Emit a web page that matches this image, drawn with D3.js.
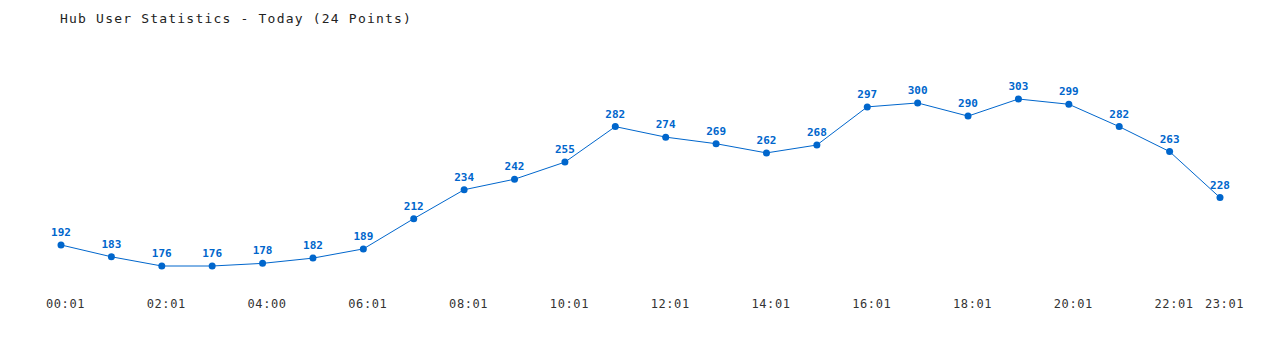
<!DOCTYPE html>
<html><head><meta charset="utf-8">
<script src="https://cdn.jsdelivr.net/npm/d3@7"></script>
<style>body{margin:0;background:#fff}svg{display:block}</style>
</head><body>
<script>
const title = "Hub User Statistics - Today (24 Points)";
const times = ["00:01","01:01","02:01","03:01","04:00","05:01","06:01","07:01","08:01","09:01","10:01","11:01",
               "12:01","13:01","14:01","15:01","16:01","17:01","18:01","19:01","20:01","21:01","22:01","23:01"];
const users = [192,183,176,176,178,182,189,212,234,242,255,282,274,269,262,268,297,300,290,303,299,282,263,228];
const tickLabels = ["00:01","02:01","04:00","06:01","08:01","10:01","12:01","14:01","16:01","18:01","20:01","22:01","23:01"];

const W = 1280, H = 350, blue = "#0066cc";
const svg = d3.select("body").append("svg").attr("width", W).attr("height", H);

const x = d3.scalePoint().domain(times).range([61, 1220]);
const y = d3.scaleLinear().domain([d3.min(users), d3.max(users)]).range([266, 99]);

svg.append("text").attr("x", 60).attr("y", 23)
  .attr("font-family", "DejaVu Sans Mono").attr("font-size", 13).attr("letter-spacing", 1.2)
  .attr("fill", "#222").text(title);

const xAxis = d3.axisBottom(x).tickValues(tickLabels).tickSize(0).tickPadding(0);
const gx = svg.append("g").attr("transform", "translate(4,299)").call(xAxis);
gx.select(".domain").remove();
gx.selectAll("text").attr("font-family", "DejaVu Sans Mono").attr("font-size", 12).attr("letter-spacing", 0.6).attr("fill", "#333");

const data = times.map((t, i) => ({t, v: users[i]}));
svg.append("path").datum(data)
  .attr("fill", "none").attr("stroke", blue).attr("stroke-width", 1)
  .attr("d", d3.line().x(d => x(d.t)).y(d => y(d.v)));

svg.append("g").selectAll("circle").data(data).join("circle")
  .attr("cx", d => x(d.t)).attr("cy", d => y(d.v)).attr("r", 3.5).attr("fill", blue);

svg.append("g").selectAll("text").data(data).join("text")
  .attr("x", d => x(d.t)).attr("y", d => y(d.v) - 9)
  .attr("text-anchor", "middle").attr("font-family", "DejaVu Sans Mono").attr("font-weight", "bold")
  .attr("font-size", 11).attr("fill", blue).text(d => d.v);
</script>
</body></html>
